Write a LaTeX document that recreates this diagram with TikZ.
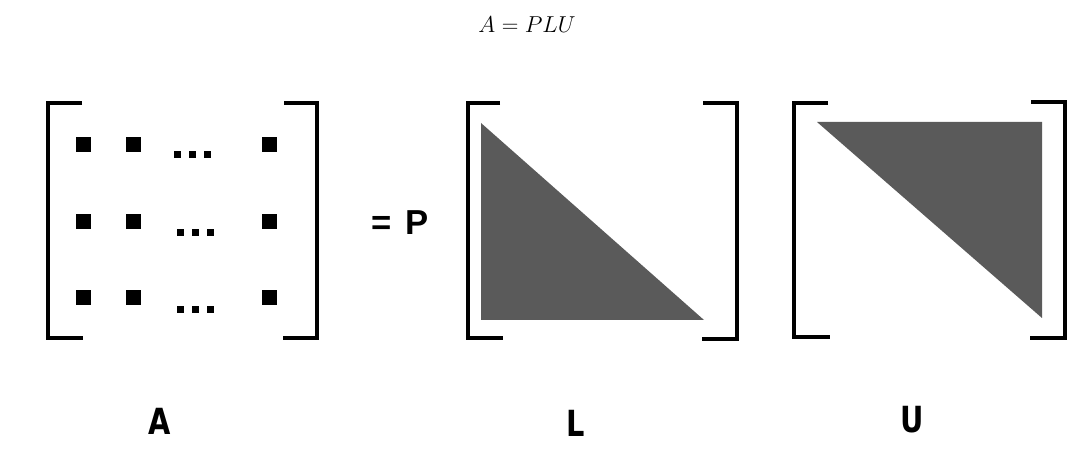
\documentclass[tikz,border=0pt]{standalone}
\usepackage{fontspec}
\newfontfamily\lblfont{DejaVu Sans}
\newfontfamily\eqfont{Liberation Sans}
\begin{document}
\begin{tikzpicture}[x=0.75pt,y=-0.75pt,
  brk/.style={line width=2.5pt,line join=miter,black},
  cell/.style={fill=black},
  tri/.style={fill=black!64.7},
  lbl/.style={font=\lblfont\bfseries\fontsize{27}{30}\selectfont,inner sep=0pt},
  ttl/.style={font=\fontsize{16}{19}\selectfont,inner sep=0pt}]
\useasboundingbox (0,0) rectangle (1090,456);
\node[ttl] (title) at (527,25) {$A = PLU$};
% matrix A
\draw[brk] (82,103) -- (48,103) -- (48,338) -- (83,338);
\draw[brk] (284,103) -- (317,103) -- (317,338) -- (283,338);
\foreach \y in {145,222,298}{
  \foreach \x in {83,133,269}{
    \fill[cell] (\x-7.5,\y-7.5) rectangle (\x+7.5,\y+7.5);
  }
}
\foreach \x in {177,192,207}{\fill[cell] (\x-3.5,155-3.5) rectangle (\x+3.5,155+3.5);}
\foreach \y in {233,310}{
  \foreach \x in {180,195,210}{\fill[cell] (\x-3.5,\y-3.5) rectangle (\x+3.5,\y+3.5);}
}
\node[inner sep=0pt,font=\eqfont\bfseries\fontsize{26}{30}\selectfont] (eqP) at (400,223) {=\hspace{10pt}P};
% matrix L
\draw[brk] (500,103) -- (468,103) -- (468,338) -- (503,338);
\draw[brk] (703,103) -- (737,103) -- (737,339) -- (702,339);
\fill[tri] (481,123) -- (481,320) -- (704,320) -- cycle;
% matrix U
\draw[brk] (828,103) -- (794,103) -- (794,337) -- (830,337);
\draw[brk] (1031,102) -- (1065,102) -- (1065,338) -- (1030,338);
\fill[tri] (817,122) -- (1042,122) -- (1042,318) -- cycle;
% labels
\node[lbl] (la) at (160,421) {\scalebox{0.8}[1]{A}};
\node[lbl] (ll) at (576,423) {\scalebox{0.8}[1]{L}};
\node[lbl] (lu) at (912,420) {\scalebox{0.8}[1]{U}};
\end{tikzpicture}
\end{document}
